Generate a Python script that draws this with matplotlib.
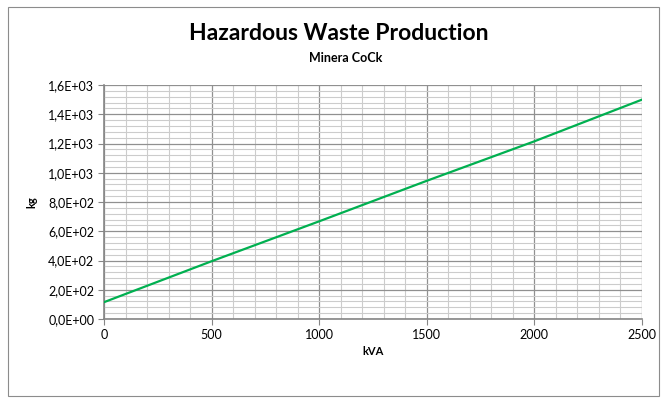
import matplotlib
matplotlib.use("Agg")
import matplotlib.pyplot as plt
from matplotlib.ticker import MultipleLocator, FuncFormatter
from matplotlib.patches import Rectangle

# data
kva = [0, 500, 1000, 1500, 2000, 2500]
kg = [115, 395, 668, 945, 1215, 1500]

title = "Hazardous Waste Production"
subtitle = "Minera CoCk"

plt.rcParams['font.family'] = ['Lato', 'DejaVu Sans']

fig = plt.figure(figsize=(6.67, 4.03), dpi=100)
ax = fig.add_axes([104 / 667, 1 - 319 / 403, (642 - 104) / 667, (319 - 85) / 403])

# outer chart border
fig.patches.append(Rectangle((8 / 667, 7 / 403), 651 / 667, 389 / 403,
                             transform=fig.transFigure, fill=False,
                             edgecolor='#8c8c8c', linewidth=0.8))

ax.plot(kva, kg, color='#00b050', linewidth=1.6, zorder=3)

ax.set_xlim(0, 2500)
ax.set_ylim(0, 1600)
ax.xaxis.set_major_locator(MultipleLocator(500))
ax.xaxis.set_minor_locator(MultipleLocator(100))
ax.yaxis.set_major_locator(MultipleLocator(200))
ax.yaxis.set_minor_locator(MultipleLocator(40))
ax.yaxis.set_major_formatter(FuncFormatter(lambda v, p: f"{v:.1E}".replace('.', ',')))

ax.grid(which='major', color='#909090', linewidth=0.9)
ax.grid(which='minor', color='#cccccc', linewidth=0.8)
ax.set_axisbelow(True)

for s in ['top', 'right']:
    ax.spines[s].set_visible(False)
for s in ['left', 'bottom']:
    ax.spines[s].set_color('#868686')
    ax.spines[s].set_linewidth(1.2)

ax.tick_params(which='major', direction='out', length=4, color='#868686',
               labelsize=9, pad=3)
ax.tick_params(which='minor', length=0)

ax.set_xlabel("kVA", fontsize=8, fontweight='bold', labelpad=4)
ax.set_ylabel("kg", fontsize=8, fontweight='bold', labelpad=8)

fig.text(339 / 667, 1 - 33 / 403, title, ha='center', va='center',
         fontsize=16.5, fontweight='bold')
fig.text(346 / 667, 1 - 58 / 403, subtitle, ha='center', va='center',
         fontsize=9, fontweight='bold')

fig.savefig("out.png", dpi=100)
